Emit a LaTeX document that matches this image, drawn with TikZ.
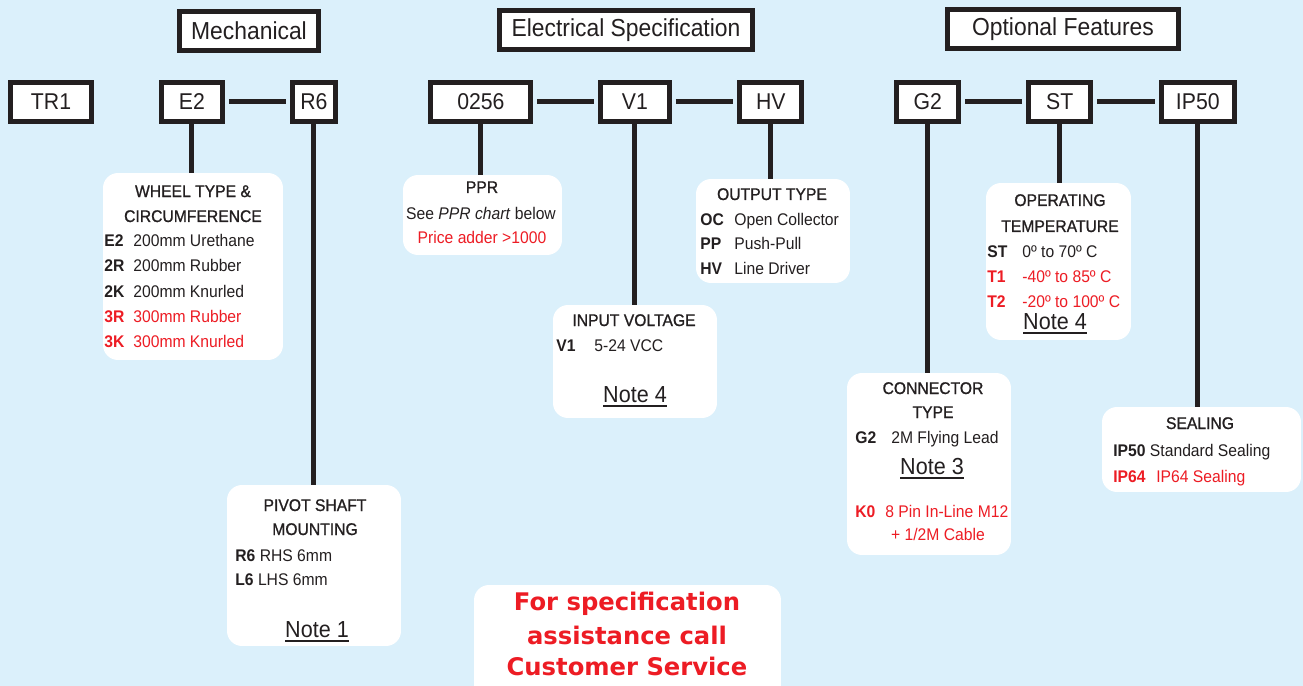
\documentclass[tikz,border=0pt]{standalone}
\usepackage{fontspec}
\setmainfont{Liberation Sans}[FakeStretch=0.93]
\newfontfamily\titlefont{Liberation Sans}[FakeStretch=0.93, FakeBold=1]
\newfontfamily\callfont{DejaVu Sans}
\usetikzlibrary{positioning}
\definecolor{bgblue}{RGB}{219,240,251}
\definecolor{optred}{RGB}{237,28,36}
\definecolor{ink}{RGB}{35,31,32}
\tikzstyle{block} = [draw=ink, line width=0.1cm, fill=white, rectangle, minimum height=0.78cm, inner sep=0pt, text=ink, font=\fontsize{13}{15}\selectfont]
\tikzstyle{header} = [block, font=\fontsize{14}{16}\selectfont]
\tikzstyle{infobox} = [fill=white, rectangle, rounded corners=0.3cm, inner sep=0pt]
\tikzstyle{link} = [draw=ink, line width=0.1cm]
\tikzstyle{txt} = [anchor=base, inner sep=0pt, text=ink, font=\fontsize{9.6}{12}\selectfont]
\tikzstyle{title} = [txt, font=\titlefont\fontsize{9.6}{12}\selectfont]
\tikzstyle{optline} = [txt, anchor=base west]
\tikzstyle{note} = [txt, font=\fontsize{13.2}{15}\selectfont]
\tikzstyle{call} = [txt, text=optred, font=\callfont\bfseries\fontsize{13.8}{16}\selectfont]
\newcommand{\optrow}[3]{\makebox[#1][l]{\bfseries #2}#3}
\newcommand{\noteul}[1]{\setbox0=\hbox{#1}\rlap{\rule[-2.6pt]{\wd0}{1.1pt}}\box0}

\begin{document}
\begin{tikzpicture}[x=0.02cm, y=-0.02cm]
  \useasboundingbox (0,0) rectangle (1303,686);
  \fill[bgblue] (0,0) rectangle (1303,686);

  % group headings
  \node[header, minimum width=2.78cm] (mech) at (249,31) {Mechanical};
  \node[header, minimum width=5.08cm] (elec) at (626,30) {Electrical Specification};
  \node[header, minimum width=4.62cm] (opt) at (1063,29) {Optional Features};

  % part number row
  \node[block, minimum width=1.62cm] (tr1) at (51,102) {TR1};
  \node[block, minimum width=1.22cm, right of=tr1, node distance=2.82cm] (e2) {E2};
  \node[block, minimum width=0.86cm, right of=e2, node distance=2.44cm] (r6) {R6};
  \node[block, minimum width=2.0cm, right of=r6, node distance=3.34cm] (res) {0256};
  \node[block, minimum width=1.38cm, right of=res, node distance=3.08cm] (v1) {V1};
  \node[block, minimum width=1.24cm, right of=v1, node distance=2.72cm] (hv) {HV};
  \node[block, minimum width=1.24cm, right of=hv, node distance=3.14cm] (g2) {G2};
  \node[block, minimum width=1.24cm, right of=g2, node distance=2.64cm] (st) {ST};
  \node[block, minimum width=1.46cm, right of=st, node distance=2.76cm] (ip50) {IP50};

  % option boxes
  \node[infobox, minimum width=3.6cm, minimum height=3.74cm] (wheel) at (193,266.5) {};
  \node[infobox, minimum width=3.48cm, minimum height=3.22cm] (pivot) at (314,565.5) {};
  \node[infobox, minimum width=3.18cm, minimum height=1.6cm] (ppr) at (482.5,215) {};
  \node[infobox, minimum width=3.08cm, minimum height=2.08cm] (output) at (773,231) {};
  \node[infobox, minimum width=3.28cm, minimum height=2.26cm] (input) at (635,361.5) {};
  \node[infobox, minimum width=2.9cm, minimum height=3.14cm] (temp) at (1058.5,261.5) {};
  \node[infobox, minimum width=3.28cm, minimum height=3.64cm] (conn) at (929,464) {};
  \node[infobox, minimum width=3.98cm, minimum height=1.7cm] (seal) at (1201.5,449.5) {};
  \node[infobox, minimum width=6.14cm, minimum height=2.4cm] (help) at (627.5,645) {};

  % wheel type
  \node[title] (wheel-t1) at (193,197) {WHEEL TYPE \&};
  \node[title] (wheel-t2) at (193,222) {CIRCUMFERENCE};
  \node[optline] (wheel-e2) at (104,247) {\optrow{0.58cm}{E2}{200mm Urethane}};
  \node[optline] (wheel-2r) at (104,272) {\optrow{0.58cm}{2R}{200mm Rubber}};
  \node[optline] (wheel-2k) at (104,297) {\optrow{0.58cm}{2K}{200mm Knurled}};
  \node[optline, text=optred] (wheel-3r) at (104,322) {\optrow{0.58cm}{3R}{300mm Rubber}};
  \node[optline, text=optred] (wheel-3k) at (104,347) {\optrow{0.58cm}{3K}{300mm Knurled}};

  % pivot shaft
  \node[title] (pivot-t1) at (315,511) {PIVOT SHAFT};
  \node[title] (pivot-t2) at (315,535) {MOUNTING};
  \node[optline] (pivot-r6) at (235,561) {\textbf{R6} RHS 6mm};
  \node[optline] (pivot-l6) at (235,585) {\textbf{L6} LHS 6mm};
  \node[note] (pivot-note) at (317,637) {\noteul{Note 1}};

  % ppr
  \node[title] (ppr-t) at (482,193) {PPR};
  \node[txt] (ppr-see) at (481,219) {See \textit{PPR chart} below};
  \node[txt, text=optred] (ppr-add) at (482,244) {Price adder >1000};

  % output type
  \node[title] (output-t) at (772,200) {OUTPUT TYPE};
  \node[optline] (output-oc) at (700,226) {\optrow{0.68cm}{OC}{Open Collector}};
  \node[optline] (output-pp) at (700,250) {\optrow{0.68cm}{PP}{Push-Pull}};
  \node[optline] (output-hv) at (700,275) {\optrow{0.68cm}{HV}{Line Driver}};

  % input voltage
  \node[title] (input-t) at (634,326) {INPUT VOLTAGE};
  \node[optline] (input-v1) at (556,351) {\optrow{0.76cm}{V1}{5-24 VCC}};
  \node[note] (input-note) at (635,402) {\noteul{Note 4}};

  % operating temperature
  \node[title] (temp-t1) at (1060,206) {OPERATING};
  \node[title] (temp-t2) at (1060,232) {TEMPERATURE};
  \node[optline] (temp-st) at (987,257) {\optrow{0.7cm}{ST}{0º to 70º C}};
  \node[optline, text=optred] (temp-t1r) at (987,282) {\optrow{0.7cm}{T1}{-40º to 85º C}};
  \node[optline, text=optred] (temp-t2r) at (987,307) {\optrow{0.7cm}{T2}{-20º to 100º C}};
  \node[note] (temp-note) at (1055,329) {\noteul{Note 4}};

  % connector type
  \node[title] (conn-t1) at (933,394) {CONNECTOR};
  \node[title] (conn-t2) at (933,418) {TYPE};
  \node[optline] (conn-g2) at (855,443) {\optrow{0.72cm}{G2}{2M Flying Lead}};
  \node[note] (conn-note) at (932,474) {\noteul{Note 3}};
  \node[optline, text=optred] (conn-k0) at (855,517) {\optrow{0.6cm}{K0}{8 Pin In-Line M12}};
  \node[txt, text=optred] (conn-k0b) at (938,540) {+ 1/2M Cable};

  % sealing
  \node[title] (seal-t) at (1200,429) {SEALING};
  \node[optline] (seal-ip50) at (1113,456) {\textbf{IP50} Standard Sealing};
  \node[optline, text=optred] (seal-ip64) at (1113,482) {\optrow{0.86cm}{IP64}{IP64 Sealing}};

  % help text
  \node[call] (help-1) at (627,610) {For specification};
  \node[call] (help-2) at (627,644) {assistance call};
  \node[call] (help-3) at (627,675) {Customer Service};

  % connectors
  \draw[link, shorten <=0.08cm, shorten >=0.08cm] (e2) -- (r6);
  \draw[link, shorten <=0.08cm, shorten >=0.08cm] (res) -- (v1);
  \draw[link, shorten <=0.08cm, shorten >=0.08cm] (v1) -- (hv);
  \draw[link, shorten <=0.08cm, shorten >=0.08cm] (g2) -- (st);
  \draw[link, shorten <=0.08cm, shorten >=0.08cm] (st) -- (ip50);
  \draw[link] (e2.south) -- (e2.south |- wheel.north);
  \draw[link] (r6.south) -- (r6.south |- pivot.north);
  \draw[link] (res.south) -- (res.south |- ppr.north);
  \draw[link] (v1.south) -- (v1.south |- input.north);
  \draw[link] (hv.south) -- (hv.south |- output.north);
  \draw[link] (g2.south) -- (g2.south |- conn.north);
  \draw[link] (st.south) -- (st.south |- temp.north);
  \draw[link] (ip50.south) -- (ip50.south |- seal.north);
\end{tikzpicture}
\end{document}
